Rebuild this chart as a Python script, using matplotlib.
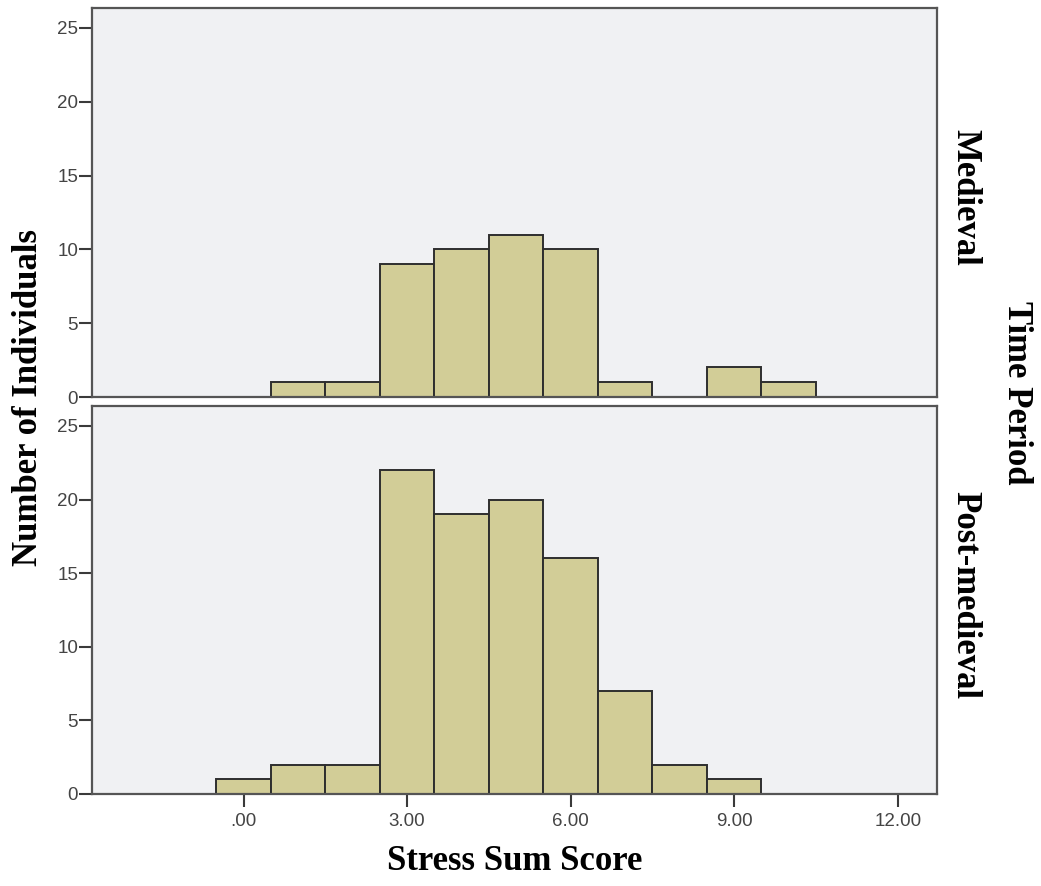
import numpy as np
from matplotlib import pyplot as plt

# stress sum score bins (width 1, centred on whole scores)
medieval_scores = [1, 2, 3, 4, 5, 6, 7, 9, 10]
medieval_counts = [1, 1, 9, 10, 11, 10, 1, 2, 1]

post_scores = [0, 1, 2, 3, 4, 5, 6, 7, 8, 9]
post_counts = [1, 2, 2, 22, 19, 20, 16, 7, 2, 1]

x_ticks = [0, 3, 6, 9, 12]
x_tick_labels = [".00", "3.00", "6.00", "9.00", "12.00"]
y_ticks = [0, 5, 10, 15, 20, 25]

panel_names = ["Medieval", "Post-medieval"]

bar_color = "#d2cd97"
edge_color = "#2e2e2e"
bg_color = "#f0f1f3"
frame_color = "#555555"

W, H = 1041, 886
fig = plt.figure(figsize=(W / 100, H / 100), dpi=100)

def box(left, top, right, bottom):
    return [left / W, (H - bottom) / H, (right - left) / W, (bottom - top) / H]

ax_top = fig.add_axes(box(92, 8, 937, 397))
ax_bot = fig.add_axes(box(92, 406, 937, 794))

serif = ["Liberation Serif", "DejaVu Serif"]
sans = ["Liberation Sans", "DejaVu Sans"]

for ax, xs, ys in [(ax_top, medieval_scores, medieval_counts),
                   (ax_bot, post_scores, post_counts)]:
    ax.set_facecolor(bg_color)
    ax.bar(xs, ys, width=1.0, color=bar_color, edgecolor=edge_color,
           linewidth=1.4, zorder=2)
    ax.set_xlim(-2.78, 12.72)
    ax.set_ylim(0, 26.35)
    ax.set_yticks(y_ticks)
    ax.set_yticklabels([str(v) for v in y_ticks], family=sans, fontsize=13.5,
                       color="#444444")
    for s in ax.spines.values():
        s.set_color(frame_color)
        s.set_linewidth(1.6)
    ax.tick_params(axis="y", direction="out", length=9.5, width=1.5,
                   color="#3a3a3a", pad=0.5)

ax_top.set_xticks([])
ax_bot.set_xticks(x_ticks)
ax_bot.set_xticklabels(x_tick_labels, family=sans, fontsize=13.5, color="#444444")
ax_bot.tick_params(axis="x", direction="out", length=9.5, width=1.5,
                   color="#3a3a3a", pad=4)

# facet labels on the right
fig.text(965 / W, 1 - 197 / H, panel_names[0], rotation=270, ha="center",
         va="center", family=serif, fontweight="bold", fontsize=25)
fig.text(965 / W, 1 - 595 / H, panel_names[1], rotation=270, ha="center",
         va="center", family=serif, fontweight="bold", fontsize=25)
fig.text(1016 / W, 1 - 393 / H, "Time Period", rotation=270, ha="center",
         va="center", family=serif, fontweight="bold", fontsize=25)

fig.text(29 / W, 1 - 398 / H, "Number of Individuals", rotation=90,
         ha="center", va="center", family=serif, fontweight="bold", fontsize=25)
fig.text(515 / W, 1 - 862 / H, "Stress Sum Score", ha="center", va="center",
         family=serif, fontweight="bold", fontsize=25)

fig.savefig("out.png", dpi=100, facecolor="white")
